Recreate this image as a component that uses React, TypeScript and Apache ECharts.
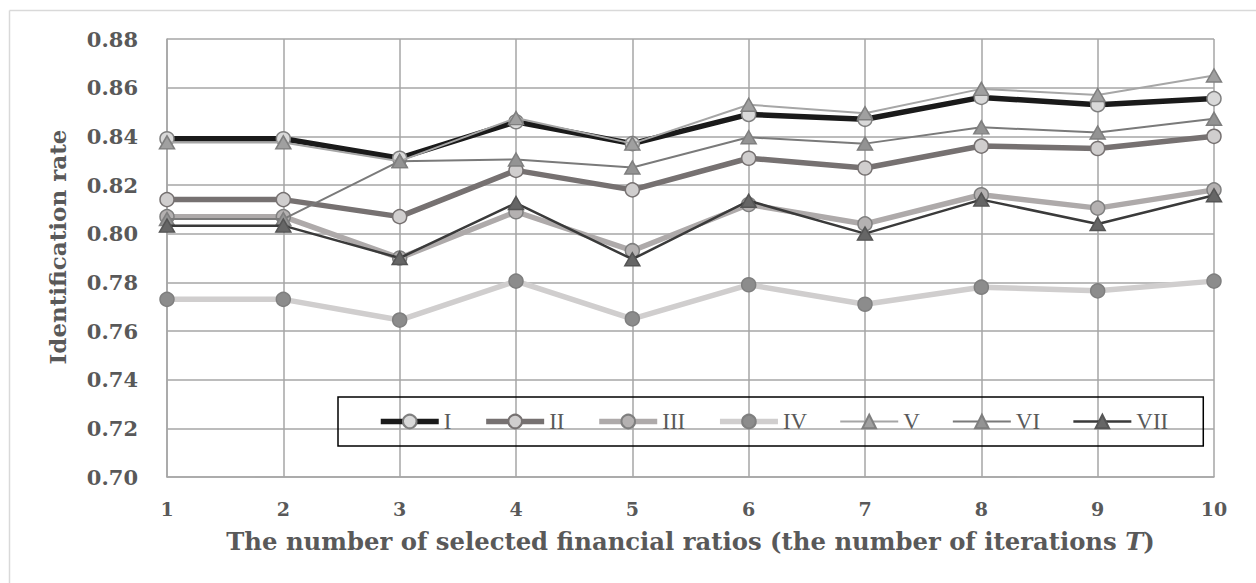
import React, { useEffect, useRef } from "react";
import * as echarts from "echarts";

const categories = ["1", "2", "3", "4", "5", "6", "7", "8", "9", "10"];
const yTicks = [0.7, 0.72, 0.74, 0.76, 0.78, 0.8, 0.82, 0.84, 0.86, 0.88];

const seriesI = [0.839, 0.839, 0.831, 0.846, 0.837, 0.849, 0.847, 0.856, 0.853, 0.8555];
const seriesII = [0.814, 0.814, 0.807, 0.826, 0.818, 0.831, 0.827, 0.836, 0.835, 0.84];
const seriesIII = [0.807, 0.807, 0.79, 0.809, 0.793, 0.812, 0.804, 0.816, 0.8105, 0.818];
const seriesIV = [0.773, 0.773, 0.7645, 0.7805, 0.765, 0.779, 0.771, 0.778, 0.7765, 0.7805];
const seriesV = [0.8375, 0.8375, 0.8298, 0.8475, 0.837, 0.853, 0.8495, 0.8595, 0.857, 0.865];
const seriesVI = [0.806, 0.806, 0.8298, 0.8305, 0.8272, 0.8396, 0.837, 0.8437, 0.8416, 0.8472];
const seriesVII = [0.8033, 0.8033, 0.79, 0.8126, 0.7895, 0.8135, 0.8, 0.814, 0.804, 0.8158];

const names = ["I", "II", "III", "IV", "V", "VI", "VII"];
const yTitle = "Identification rate";

const AXIS_FONT = "'DejaVu Serif', Georgia, serif";
const LEGEND_FONT = "'Liberation Serif', 'Times New Roman', serif";

export default function App() {
  const ref = useRef<HTMLDivElement>(null);

  useEffect(() => {
    if (!ref.current) return;
    const chart = echarts.init(ref.current, undefined, { renderer: "svg" });

    const styles = [
      { data: seriesI, line: "#1a1a1a", width: 5.5, symbol: "circle", fill: "#d9d9d9", border: "#7f7f7f" },
      { data: seriesII, line: "#767171", width: 5.5, symbol: "circle", fill: "#d0cece", border: "#767171" },
      { data: seriesIII, line: "#aeaaaa", width: 5.5, symbol: "circle", fill: "#b4b1b1", border: "#7f7f7f" },
      { data: seriesIV, line: "#d0cece", width: 5.5, symbol: "circle", fill: "#8c8c8c", border: "#7f7f7f" },
      { data: seriesV, line: "#a6a6a6", width: 2, symbol: "triangle", fill: "#a0a0a0", border: "#7f7f7f" },
      { data: seriesVI, line: "#7a7a7a", width: 2, symbol: "triangle", fill: "#939393", border: "#7f7f7f" },
      { data: seriesVII, line: "#3a3a3a", width: 2.5, symbol: "triangle", fill: "#666666", border: "#555555" },
    ];

    const option = {
      animation: false,
      backgroundColor: "#ffffff",
      graphic: [
        { type: "line", shape: { x1: 9.5, y1: 10.5, x2: 1256, y2: 10.5 }, style: { stroke: "#d9d9d9", lineWidth: 1.5 } },
        { type: "line", shape: { x1: 9.5, y1: 10.5, x2: 9.5, y2: 583 }, style: { stroke: "#d9d9d9", lineWidth: 1.5 } },
        {
          type: "text",
          x: 57,
          y: 247,
          rotation: Math.PI / 2,
          style: {
            text: yTitle,
            fill: "#595959",
            font: `bold 23px ${AXIS_FONT}`,
            align: "center",
            verticalAlign: "middle",
          },
        },
      ],
      grid: { left: 167, right: 42, top: 39, bottom: 106, containLabel: false },
      xAxis: {
        type: "category",
        data: categories,
        boundaryGap: false,
        axisLine: { show: true, lineStyle: { color: "#a6a6a6", width: 1.5 } },
        axisTick: { show: false },
        axisLabel: {
          color: "#595959",
          fontFamily: AXIS_FONT,
          fontWeight: "bold",
          fontSize: 19,
          margin: 22,
        },
        splitLine: { show: true, lineStyle: { color: "#a6a6a6", width: 1.5 } },
        name: "{n|The number of selected financial ratios (the number of iterations }{i|T}{n|)}",
        nameLocation: "middle",
        nameGap: 52,
        nameTextStyle: {
          rich: {
            n: { color: "#595959", fontFamily: AXIS_FONT, fontWeight: "bold", fontSize: 24.3 },
            i: { color: "#595959", fontFamily: AXIS_FONT, fontWeight: "bold", fontStyle: "italic", fontSize: 24.3 },
          },
        },
      },
      yAxis: {
        type: "value",
        min: yTicks[0],
        max: yTicks[yTicks.length - 1],
        interval: 0.02,
        axisLine: { show: true, lineStyle: { color: "#a6a6a6", width: 1.5 } },
        axisTick: { show: false },
        axisLabel: {
          color: "#595959",
          fontFamily: AXIS_FONT,
          fontWeight: "bold",
          fontSize: 21,
          margin: 29,
          formatter: (v: number) => v.toFixed(2),
        },
        splitLine: { show: true, lineStyle: { color: "#a6a6a6", width: 1.5 } },
      },
      legend: {
        left: 338,
        top: 397,
        orient: "horizontal",
        data: names.map((n, i) => ({ name: n, lineStyle: { width: styles[i].width } })),
        itemWidth: 58,
        itemHeight: 17,
        itemGap: 32,
        padding: [13, 35, 13, 40],
        borderColor: "#000000",
        borderWidth: 1.5,
        textStyle: { color: "#595959", fontFamily: LEGEND_FONT, fontSize: 23 },
      },
      series: styles.map((s, i) => ({
        name: names[i],
        type: "line",
        data: s.data,
        symbol: s.symbol,
        symbolSize: s.symbol === "circle" ? 14 : [15, 13],
        showAllSymbol: true,
        lineStyle: { color: s.line, width: s.width },
        itemStyle: { color: s.fill, borderColor: s.border, borderWidth: 1.5 },
        emphasis: { disabled: true },
        z: 2 + i,
      })),
    };

    chart.setOption(option as any);
    return () => chart.dispose();
  }, []);

  return (
    <div
      ref={ref}
      style={{ position: "fixed", left: 0, top: 0, width: 1256, height: 583, background: "#fff" }}
    />
  );
}
